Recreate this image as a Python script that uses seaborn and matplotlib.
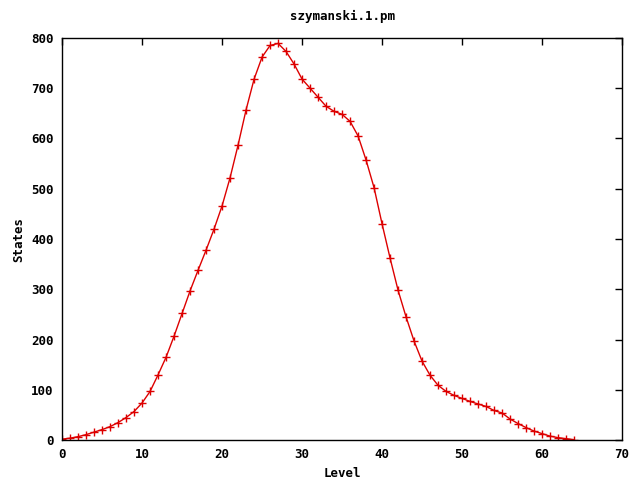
import numpy as np
import pandas as pd
import seaborn as sns
import matplotlib
matplotlib.use("Agg")
import matplotlib.pyplot as plt

# 各レベルの状態数
levels = list(range(0, 65))
states = [
    2, 4, 7, 11, 16, 21, 27, 35, 45, 57,
    74, 97, 130, 165, 207, 252, 297, 338, 378, 420,
    466, 522, 587, 657, 718, 762, 785, 789, 773, 748,
    718, 700, 682, 664, 654, 648, 634, 605, 557, 502,
    430, 362, 298, 245, 197, 157, 129, 109, 97, 89,
    83, 77, 72, 67, 59, 54, 42, 33, 25, 18,
    13, 8, 5, 3, 1,
]

df = pd.DataFrame({"Level": levels, "States": states})

sns.set_style("white", {"text.color": "black", "axes.labelcolor": "black",
                        "xtick.color": "black", "ytick.color": "black",
                        "axes.edgecolor": "black"})
plt.rcParams["font.family"] = ["DejaVu Sans Mono"]
plt.rcParams["font.weight"] = "bold"

fig, ax = plt.subplots(figsize=(6.4, 4.8), dpi=100)
fig.subplots_adjust(left=0.097, right=0.972, top=0.921, bottom=0.083)

sns.lineplot(
    data=df, x="Level", y="States", ax=ax,
    color="#dd0000", linewidth=1.0, marker="+", markersize=6,
    markeredgewidth=1.0, markeredgecolor="#dd0000",
)

ax.set_xlim(0, 70)
ax.set_ylim(0, 800)
ax.set_xticks(range(0, 71, 10))
ax.set_yticks(range(0, 801, 100))
ax.tick_params(direction="in", top=True, right=True, length=5, width=1,
               labelsize=9, pad=6, colors="black")
for s in ax.spines.values():
    s.set_color("black")
    s.set_linewidth(1.0)

ax.set_title("szymanski.1.pm", fontsize=9, fontweight="bold", pad=13, color="black")
ax.set_xlabel("Level", fontsize=9, fontweight="bold", color="black")
ax.set_ylabel("States", fontsize=9, fontweight="bold", color="black")

plt.savefig("out.png", dpi=100)
